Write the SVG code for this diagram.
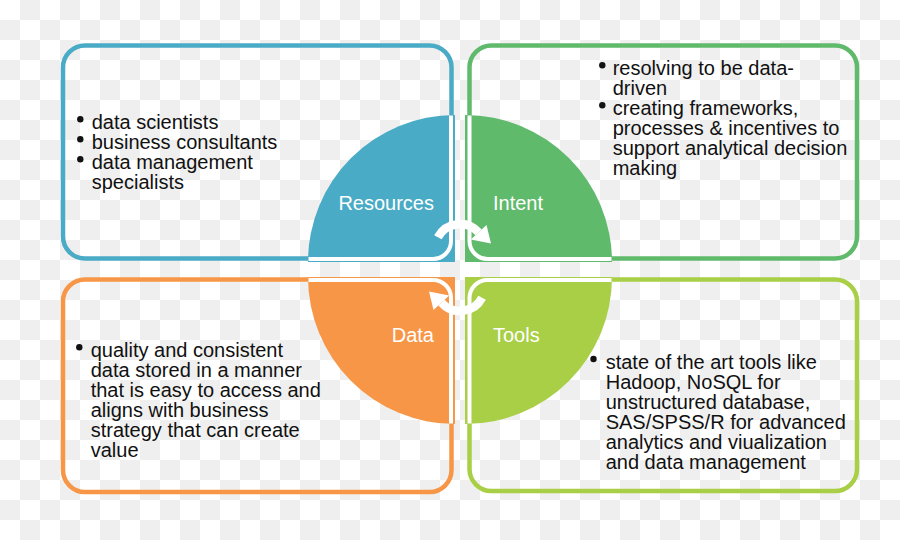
<svg xmlns="http://www.w3.org/2000/svg" width="900" height="540" viewBox="0 0 900 540">
<defs>
<pattern id="checker" x="0" y="0" width="40" height="40" patternUnits="userSpaceOnUse">
<rect width="40" height="40" fill="#ffffff"/>
<rect x="20" y="0" width="20" height="20" fill="#efefef"/>
<rect x="0" y="20" width="20" height="20" fill="#efefef"/>
</pattern>
<g id="curvedArrow">
<path d="M437.9,237.3 A25,25 0 0 1 478.6,232.3" fill="none" stroke="#ffffff" stroke-width="8.5"/>
<polygon points="486.5,225 470.8,239.5 491,243.5" fill="#ffffff"/>
</g>
</defs>
<style>
.box{fill:none;stroke-width:4.5}
.body{font-family:"Liberation Sans",Arial,sans-serif;font-size:20px;fill:#111111}
.label{font-family:"Liberation Sans",Arial,sans-serif;font-size:20px;fill:#ffffff}
.inner{fill:none;stroke:#ffffff;stroke-width:4}
.bullet{fill:#111111}
</style>
<rect width="900" height="540" fill="url(#checker)"/>

<g id="box-resources">
<rect class="box" x="63" y="45.5" width="388.5" height="213" rx="22" stroke="#4aabc6"/>
<circle class="bullet" cx="80.3" cy="119.3" r="3.2"/>
<circle class="bullet" cx="80.3" cy="139.3" r="3.2"/>
<circle class="bullet" cx="80.3" cy="159.3" r="3.2"/>
<text class="body" x="91.7" y="129">data scientists</text>
<text class="body" x="91.7" y="149">business consultants</text>
<text class="body" x="91.7" y="169">data management</text>
<text class="body" x="91.7" y="189">specialists</text>
</g>

<g id="box-intent">
<rect class="box" x="469.5" y="45.5" width="387.5" height="213" rx="22" stroke="#5fba6c"/>
<circle class="bullet" cx="602.3" cy="65.3" r="3.2"/>
<circle class="bullet" cx="602.3" cy="105.3" r="3.2"/>
<text class="body" x="612.7" y="75">resolving to be data-</text>
<text class="body" x="612.7" y="95">driven</text>
<text class="body" x="612.7" y="115">creating frameworks,</text>
<text class="body" x="612.7" y="135">processes &amp; incentives to</text>
<text class="body" x="612.7" y="155">support analytical decision</text>
<text class="body" x="612.7" y="175">making</text>
</g>

<g id="box-data">
<rect class="box" x="63" y="279.5" width="388.5" height="212.5" rx="22" stroke="#f79646"/>
<circle class="bullet" cx="79.3" cy="347.3" r="3.2"/>
<text class="body" x="90.7" y="357">quality and consistent</text>
<text class="body" x="90.7" y="377">data stored in a manner</text>
<text class="body" x="90.7" y="397">that is easy to access and</text>
<text class="body" x="90.7" y="417">aligns with business</text>
<text class="body" x="90.7" y="437">strategy that can create</text>
<text class="body" x="90.7" y="457">value</text>
</g>

<g id="box-tools">
<rect class="box" x="469.5" y="279.5" width="387.5" height="211.5" rx="22" stroke="#a8cf45"/>
<circle class="bullet" cx="593.5" cy="359" r="3.2"/>
<text class="body" x="605.7" y="368.5">state of the art tools like</text>
<text class="body" x="605.7" y="388.5">Hadoop, NoSQL for</text>
<text class="body" x="605.7" y="408.5">unstructured database,</text>
<text class="body" x="605.7" y="428.5">SAS/SPSS/R for advanced</text>
<text class="body" x="605.7" y="448.5">analytics and viualization</text>
<text class="body" x="605.7" y="468.5">and data management</text>
</g>

<g id="node-resources">
<path d="M455,262 H308 A147,147 0 0 1 455,115 Z" fill="#4aabc6"/>
<path class="inner" d="M308.5,259 H433 A18,18 0 0 0 451,241 V115.5"/>
<text class="label" x="434" y="210" text-anchor="end">Resources</text>
</g>
<g id="node-intent">
<path d="M465,262 V115 A147,147 0 0 1 612,262 Z" fill="#5fba6c"/>
<path class="inner" d="M469.5,115.5 V241 A18,18 0 0 0 487.5,259 H611.5"/>
<text class="label" x="493" y="210">Intent</text>
</g>
<g id="node-data">
<path d="M455,277 V424 A147,147 0 0 1 308,277 Z" fill="#f79646"/>
<path class="inner" d="M308.5,280 H433 A18,18 0 0 1 451,298 V423.5"/>
<text class="label" x="434" y="342" text-anchor="end">Data</text>
</g>
<g id="node-tools">
<path d="M465,277 H612 A147,147 0 0 1 465,424 Z" fill="#a8cf45"/>
<path class="inner" d="M611.5,280 H487.5 A18,18 0 0 0 469.5,298 V423.5"/>
<text class="label" x="493" y="342">Tools</text>
</g>

<g id="connectors">
<use href="#curvedArrow"/>
<use href="#curvedArrow" transform="rotate(180 460 267.5)"/>
</g>
</svg>
